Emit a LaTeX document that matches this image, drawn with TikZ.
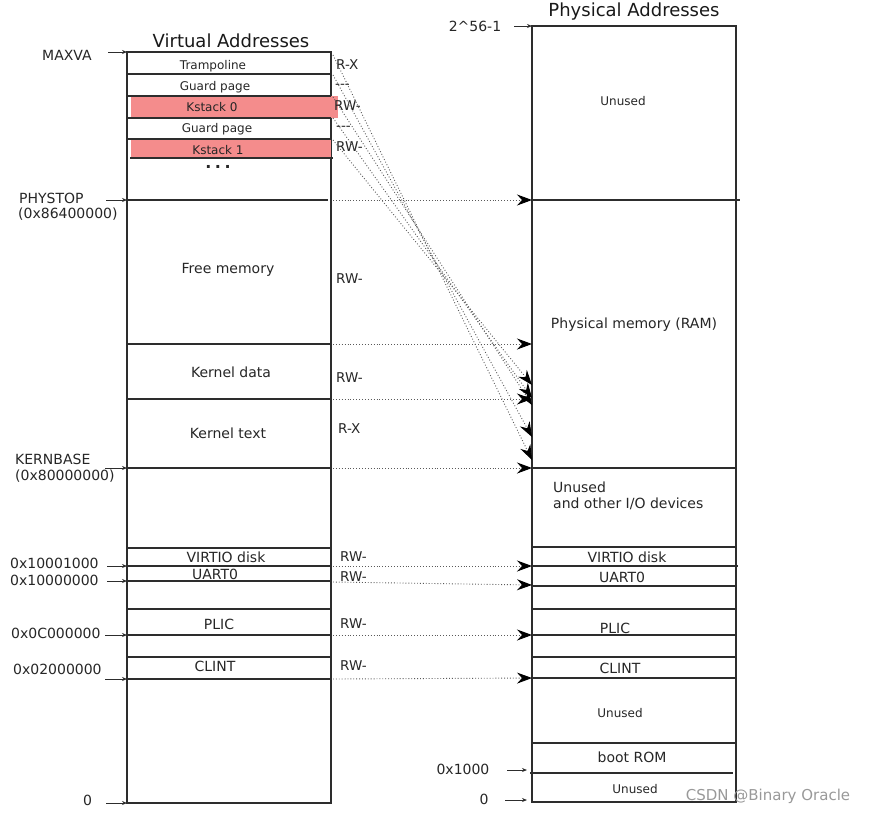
\documentclass[tikz,border=0pt]{standalone}
\usepackage{fontspec}
\setmainfont{DejaVu Sans}
\usetikzlibrary{arrows.meta}
\definecolor{kred}{RGB}{244,140,140}
\definecolor{ln}{RGB}{45,45,45}
\definecolor{dotc}{RGB}{90,90,90}
\begin{document}
\begin{tikzpicture}[x=1pt,y=-1pt,
  box/.style={draw=ln,line width=1.5pt},
  sep/.style={draw=ln,line width=1.1pt},
  txt/.style={font=\fontsize{14}{16}\selectfont, inner sep=0pt, text=black!85},
  small/.style={font=\fontsize{12}{14}\selectfont, inner sep=0pt, text=black!85},
  title/.style={font=\fontsize{18}{20}\selectfont, inner sep=0pt, text=black!90},
  perm/.style={font=\fontsize{13.5}{15}\selectfont, inner sep=0pt, anchor=west, text=black!85},
  addr/.style={font=\fontsize{14}{16}\selectfont, inner sep=0pt, anchor=west, text=black!85},
  ptr/.style={-{Stealth[length=5pt,width=4pt]}, line width=0.9pt, draw=ln},
  map/.style={dotted, line width=0.9pt, draw=dotc, -{Stealth[length=15pt,width=11pt,inset=5pt,color=black]}}
]
\useasboundingbox (0,0) rectangle (873,815);

% ---------------- titles
\node[title] (vtitle) at (231,41) {Virtual Addresses};
\node[title] (ptitle) at (634,12) {Physical Addresses};

% ---------------- virtual box
\draw[box] (127,52) rectangle (331,803);
\fill[kred] (131,96) rectangle (338,118);
\fill[kred] (131,139.5) rectangle (331,158);
\foreach \y in {74,96,118,139,344,399,468,548,566,581,609,635,657,679}
  \draw[sep] (127,\y) -- (331,\y);
\draw[sep] (130,158) -- (333,158);
\draw[sep] (127,200) -- (328,200);

\node[small] (tramp) at (213,66) {Trampoline};
\node[small] (guard0) at (215,87) {Guard page};
\node[small] (ks0) at (212,107) {Kstack 0};
\node[small] (guard1) at (217,129) {Guard page};
\node[small] (ks1) at (218,150) {Kstack 1};
\node[txt,font=\fontsize{16}{18}\selectfont\bfseries] (dots) at (218,167) {.\hspace{3.5pt}.\hspace{3.5pt}.};
\node[txt] (free) at (228,270) {Free memory};
\node[txt] (kdata) at (231,372) {Kernel data};
\node[txt] (ktext) at (228,433) {Kernel text};
\node[txt] (vvirtio) at (226,557) {VIRTIO disk};
\node[txt] (vuart) at (215,574) {UART0};
\node[txt] (vplic) at (219,624) {PLIC};
\node[txt] (vclint) at (215,666) {CLINT};

% permissions
\node[perm] (p1) at (336,65) {R-X};
\node[perm] (p2) at (335,86) {-\kern0pt-\kern0pt-};
\node[perm] (p3) at (334,106) {RW-};
\node[perm] (p4) at (336,128) {-\kern0pt-\kern0pt-};
\node[perm] (p5) at (336,147) {RW-};
\node[perm] (p6) at (336,279) {RW-};
\node[perm] (p7) at (336,378) {RW-};
\node[perm] (p8) at (338,429) {R-X};
\node[perm] (p9) at (340,557) {RW-};
\node[perm] (p10) at (340,577) {RW-};
\node[perm] (p11) at (340,624) {RW-};
\node[perm] (p12) at (340,666) {RW-};

% left address labels
\node[addr] (maxva) at (42,55) {MAXVA};
\node[addr] (phystop) at (19,198) {PHYSTOP};
\node[addr] (phystopv) at (18,214) {(0x86400000)};
\node[addr] (kbase) at (15,459) {KERNBASE};
\node[addr] (kbasev) at (15,476) {(0x80000000)};
\node[addr] (a1) at (10,563) {0x10001000};
\node[addr] (a2) at (10,580) {0x10000000};
\node[addr] (a3) at (11,633) {0x0C000000};
\node[addr] (a4) at (13,669) {0x02000000};
\node[addr] (a5) at (83,800) {0};

\foreach \n/\xs/\y in {m/108/52, ph/106/200, kb/105/468, b1/107/566, b2/107/581, b3/105/635, b4/105/679, b5/106/803} {
  \coordinate (s\n) at (\xs,\y);
  \coordinate (e\n) at (127,\y);
  \draw[ptr] (s\n) -- (e\n);
}

% ---------------- physical box
\draw[box] (532,26) rectangle (736,802);
\draw[sep] (532,200) -- (740,200);
\foreach \y in {468,547,586,609,635,657,678,743}
  \draw[sep] (532,\y) -- (736,\y);
\draw[sep] (532,566) -- (738,566);
\draw[sep] (530,773) -- (733,773);

\node[small] (unused1) at (623,101) {Unused};
\node[txt] (ram) at (634,325) {Physical memory (RAM)};
\node[txt,anchor=west] (unused2) at (553,487) {Unused};
\node[txt,anchor=west] (iodev) at (553,504) {and other I/O devices};
\node[txt] (pvirtio) at (627,557) {VIRTIO disk};
\node[txt] (puart) at (622,577) {UART0};
\node[txt] (pplic) at (615,628) {PLIC};
\node[txt] (pclint) at (620,668) {CLINT};
\node[small] (unused3) at (620,713) {Unused};
\node[txt] (brom) at (632,757) {boot ROM};
\node[small] (unused4) at (635,789) {Unused};

\node[addr,anchor=center] (top) at (475,26) {2\textasciicircum 56-1};
\node[addr,anchor=center] (r1000) at (463,769) {0x1000};
\node[addr,anchor=center] (rzero) at (484,799) {0};
\coordinate (st) at (514,26);  \coordinate (et) at (532,26);
\coordinate (s1k) at (507,770); \coordinate (e1k) at (527,770);
\coordinate (s0) at (505,800);  \coordinate (e0) at (527,800);
\draw[ptr] (st) -- (et);
\draw[ptr] (s1k) -- (e1k);
\draw[ptr] (s0) -- (e0);

% ---------------- mappings (horizontal)
\foreach \n/\ya/\yb in {phy/200/200, kd/344/344, kt/399/399, kb/468/468, vi/566/566, ua/582/585, pl/635/635, cl/679/678} {
  \coordinate (v\n) at (333,\ya);
  \coordinate (q\n) at (532,\yb);
  \draw[map] (v\n) -- (q\n);
}

% ---------------- mappings (diagonal: trampoline and kernel stacks)
\foreach \n/\ya/\yb in {d1/55/460, d2/75/437, d3/97/405, d4/118/398, d5/140/385} {
  \coordinate (v\n) at (333,\ya);
  \coordinate (q\n) at (532,\yb);
  \draw[map] (v\n) -- (q\n);
}

% watermark
\node[font=\fontsize{15}{17}\selectfont, text=black!40, inner sep=0pt] (wm) at (768,796) {CSDN @Binary Oracle};
\end{tikzpicture}
\end{document}
